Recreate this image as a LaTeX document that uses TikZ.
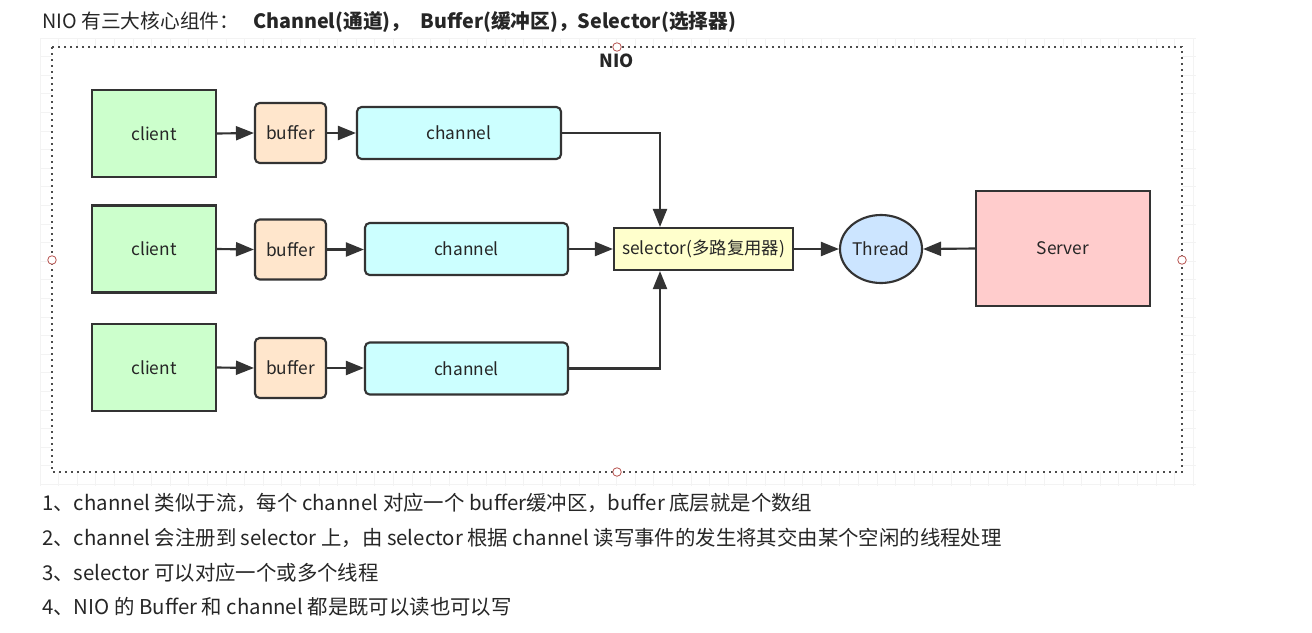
\documentclass[tikz,border=0pt]{standalone}
\usepackage{fontspec}
\setmainfont{Noto Sans CJK SC}
\usetikzlibrary{arrows.meta,shapes.geometric,calc}
\definecolor{txt}{HTML}{262626}
\definecolor{strk}{HTML}{333333}
\definecolor{clientc}{HTML}{CCFFCC}
\definecolor{bufc}{HTML}{FFE6CC}
\definecolor{chanc}{HTML}{CCFFFF}
\definecolor{selc}{HTML}{FFFFCC}
\definecolor{thrc}{HTML}{CCE5FF}
\definecolor{srvc}{HTML}{FFCCCC}
\definecolor{gridc}{HTML}{F3F3F3}
\definecolor{handlec}{HTML}{B85450}
\tikzset{
  box/.style={draw=strk, line width=1.6pt, inner sep=0pt, text=txt,
    font=\fontsize{13}{15}\selectfont},
  clientbox/.style={box, fill=clientc, minimum width=93pt, minimum height=65.25pt},
  bufbox/.style={box, fill=bufc, rounded corners=3.5pt, minimum width=53.25pt, minimum height=45pt},
  chanbox/.style={box, fill=chanc, rounded corners=3.5pt, minimum height=39pt},
  selbox/.style={box, fill=selc, minimum width=134.25pt, minimum height=31.5pt},
  thrbox/.style={box, ellipse, fill=thrc, minimum width=61.5pt, minimum height=51pt},
  srvbox/.style={box, fill=srvc, minimum width=130.5pt, minimum height=86.25pt},
  arr/.style={draw=strk, line width=1.6pt, -{Triangle[length=13.5pt,width=10.5pt]}},
  frameline/.style={draw=black!70, line width=1.7pt, dash pattern=on 1.7pt off 2.8pt},
  handle/.style={draw=handlec, line width=0.6pt, fill=white},
  plain/.style={inner sep=0pt, text=txt},
  notefont/.style={font=\fontsize{15.3}{18}\selectfont},
  titlefont/.style={font=\fontsize{14.8}{17}\selectfont},
}
\begin{document}
\begin{tikzpicture}[x=0.75pt,y=-0.75pt]
\useasboundingbox (0,0) rectangle (1312,632);
\fill[white] (0,0) rectangle (1312,632);
% faint canvas grid
\foreach \gx in {40,58.6,...,1196} \draw[gridc, line width=0.6pt] (\gx,38) -- (\gx,486);
\foreach \gy in {38,56.6,...,486} \draw[gridc, line width=0.6pt] (40,\gy) -- (1196,\gy);
% frame
\fill[white] (52,47) rectangle (1182,472);
\draw[frameline] (52,47) rectangle (1182,472);
\node[font=\bfseries\fontsize{13.5}{15}\selectfont, text=txt, inner sep=0pt] (nio) at (617,61) {NIO};

% title
\node[plain, titlefont, anchor=base west] (title) at (42,28) {NIO 有三大核心组件：\hspace{0.7em}\textbf{Channel(通道)，\hspace{0.3em} Buffer(缓冲区)，Selector(选择器)}};

% nodes
\node[clientbox] (c1) at (154,133.5) {client};
\node[clientbox] (c2) at (154,249) {client};
\node[clientbox] (c3) at (154,367.5) {client};
\node[bufbox] (b1) at (290.5,133) {buffer};
\node[bufbox] (b2) at (290.5,249.5) {buffer};
\node[bufbox] (b3) at (290.5,368) {buffer};
\node[chanbox, minimum width=153pt] (h1) at (459,133) {channel};
\node[chanbox, minimum width=152.25pt] (h2) at (466.5,249) {channel};
\node[chanbox, minimum width=152.25pt] (h3) at (466.5,368.5) {channel};
\node[selbox] (sel) at (703.5,249) {selector(多路复用器)};
\node[thrbox] (thr) at (881,249) {Thread};
\node[srvbox] (srv) at (1063,248.5) {Server};

\coordinate (sTop) at ($(sel.north)+(-43.5,0)$);
\coordinate (sBot) at ($(sel.south)+(-43.5,0)$);

% connectors
\foreach \i in {1,2,3} {
  \draw[arr] (c\i.east) -- (b\i.west);
  \draw[arr] (b\i.east) -- (b\i.east -| h\i.west);
}
\draw[arr] (h1.east) -| (sTop);
\draw[arr] (h2.east) -- (sel.west);
\draw[arr] (h3.east) -| (sBot);
\draw[arr] (sel.east) -- (thr.west);
\draw[arr] (srv.west) -- (thr.east);

% selection handles
\foreach \hx/\hy in {617/47, 52/260, 1182/260, 617/472}
  \draw[handle] (\hx,\hy) circle[radius=3.2pt];

% notes
\node[plain, notefont, anchor=base west] (n1) at (42,510) {1、channel 类似于流，每个 channel 对应一个 buffer缓冲区，buffer 底层就是个数组};
\node[plain, notefont, anchor=base west] (n2) at (42,545) {2、channel 会注册到 selector 上，由 selector 根据 channel 读写事件的发生将其交由某个空闲的线程处理};
\node[plain, notefont, anchor=base west] (n3) at (42,580) {3、selector 可以对应一个或多个线程};
\node[plain, notefont, anchor=base west] (n4) at (42,614) {4、NIO 的 Buffer 和 channel 都是既可以读也可以写};
\end{tikzpicture}
\end{document}
